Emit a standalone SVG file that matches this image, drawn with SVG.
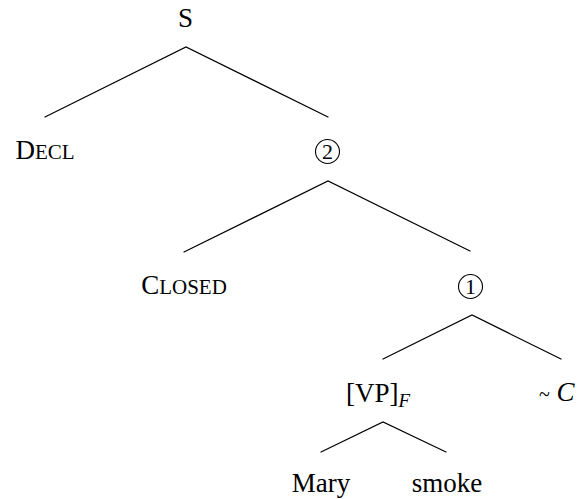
<svg xmlns="http://www.w3.org/2000/svg" width="582" height="499" viewBox="0 0 582 499">
  <style>
    text { font-family: "Liberation Serif", Tinos, "Times New Roman", serif; fill: #000; }
    .lbl { font-size: 27px; }
    .small { font-size: 21px; }
    .mid { text-anchor: middle; }
    .it { font-style: italic; }
    .edge { stroke: #000; stroke-width: 1.2; fill: none; stroke-linecap: round; }
    .ring { stroke: #000; stroke-width: 1.1; fill: none; }
    .digit { font-size: 22px; text-anchor: middle; }
  </style>

  <!-- tree branches -->
  <g id="connectors">
    <path class="edge" d="M45,117 L186,47 L328,117"/>
    <path class="edge" d="M184,252 L328,181 L470,251"/>
    <path class="edge" d="M383,359 L472,315 L561,359"/>
    <path class="edge" d="M321,452 L383,422 L446,452"/>
  </g>

  <g id="node-s">
    <text class="lbl mid" x="185.5" y="27">S</text>
  </g>
  <g id="node-decl">
    <!-- small caps built from two sizes -->
    <text class="lbl mid" x="45" y="159">D<tspan class="small">ECL</tspan></text>
  </g>
  <g id="node-2">
    <circle class="ring" cx="327.5" cy="151.5" r="12"/>
    <text class="digit" x="327.5" y="159">2</text>
  </g>
  <g id="node-closed">
    <text class="lbl mid" x="184" y="294">C<tspan class="small">LOSED</tspan></text>
  </g>
  <g id="node-1">
    <circle class="ring" cx="470.5" cy="286.5" r="12"/>
    <text class="digit" x="470.5" y="294">1</text>
  </g>
  <g id="node-vp">
    <text class="lbl" x="346" y="401.5">[VP]<tspan class="it" font-size="19" dy="5">F</tspan></text>
  </g>
  <g id="node-c">
    <text class="lbl" x="539" y="401"><tspan font-size="20">~</tspan> <tspan class="it">C</tspan></text>
  </g>
  <g id="node-mary">
    <text class="lbl mid" x="321" y="492">Mary</text>
  </g>
  <g id="node-smoke">
    <text class="lbl mid" x="447" y="492">smoke</text>
  </g>
</svg>
